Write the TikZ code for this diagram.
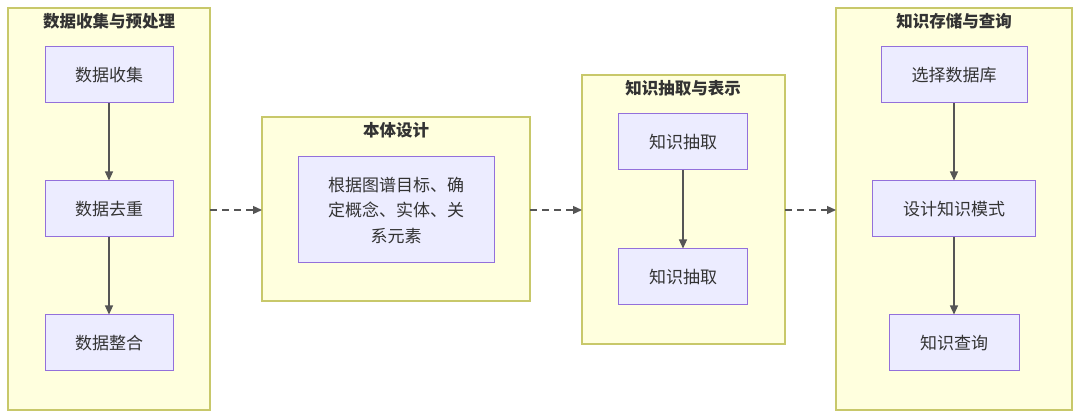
\documentclass[tikz,border=0pt]{standalone}
\usepackage{fontspec}
\setmainfont{Noto Sans CJK SC}
\usetikzlibrary{arrows.meta}
\definecolor{clfill}{HTML}{FFFFDE}
\definecolor{cldraw}{HTML}{C8C86A}
\definecolor{ndfill}{HTML}{ECECFF}
\definecolor{nddraw}{HTML}{9370DB}
\definecolor{txt}{HTML}{333333}
\definecolor{ln}{HTML}{555555}
\tikzset{
  x=1pt, y=-1pt,
  cluster/.style={draw=cldraw, fill=clfill, line width=1.2pt},
  ctitle/.style={font=\fontsize{16.5}{19}\selectfont\bfseries, text=txt, anchor=center},
  nodebox/.style={draw=nddraw, fill=ndfill, line width=1pt, text=txt, font=\fontsize{17}{25.5}\selectfont, align=center},
  flow/.style={draw=ln, line width=1.2pt, -{Triangle[length=9pt,width=8pt]}},
  dflow/.style={draw=ln, line width=1.2pt, dash pattern=on 7pt off 5pt, -{Triangle[length=9pt,width=8pt]}}
}
\begin{document}
\begin{tikzpicture}
\useasboundingbox (0,0) rectangle (1080,419);
% clusters
\draw[cluster] (8,8) rectangle (210,410);
\node[ctitle] (t1) at (109,21) {数据收集与预处理};
\draw[cluster] (262,117) rectangle (530,301);
\node[ctitle] (t2) at (396,130) {本体设计};
\draw[cluster] (582,75) rectangle (785,344);
\node[ctitle] (t3) at (683,88) {知识抽取与表示};
\draw[cluster] (836,8) rectangle (1072,410);
\node[ctitle] (t4) at (954,21) {知识存储与查询};
% nodes cluster 1
\node[nodebox, minimum width=128pt, minimum height=56pt] (a1) at (109,75) {数据收集};
\node[nodebox, minimum width=128pt, minimum height=56pt] (a2) at (109,209) {数据去重};
\node[nodebox, minimum width=128pt, minimum height=56pt] (a3) at (109,343) {数据整合};
% cluster 2
\node[nodebox, minimum width=196pt, minimum height=106pt] (b1) at (396,210) {根据图谱目标、确\\定概念、实体、关\\系元素};
% cluster 3
\node[nodebox, minimum width=129pt, minimum height=56pt] (c1) at (683,142) {知识抽取};
\node[nodebox, minimum width=129pt, minimum height=56pt] (c2) at (683,277) {知识抽取};
% cluster 4
\node[nodebox, minimum width=146pt, minimum height=56pt] (d1) at (954,75) {选择数据库};
\node[nodebox, minimum width=163pt, minimum height=56pt] (d2) at (954,209) {设计知识模式};
\node[nodebox, minimum width=130pt, minimum height=56pt] (d3) at (954,343) {知识查询};
% coordinates on cluster borders
\coordinate (o1) at (210,210);
\coordinate (i2) at (262,210);
\coordinate (o2) at (530,210);
\coordinate (i3) at (582,210);
\coordinate (o3) at (785,210);
\coordinate (i4) at (836,210);
% arrows
\draw[flow] (a1) -- (a2);
\draw[flow] (a2) -- (a3);
\draw[flow] (c1) -- (c2);
\draw[flow] (d1) -- (d2);
\draw[flow] (d2) -- (d3);
\draw[dflow] (o1) -- (i2);
\draw[dflow] (o2) -- (i3);
\draw[dflow] (o3) -- (i4);
\end{tikzpicture}
\end{document}
